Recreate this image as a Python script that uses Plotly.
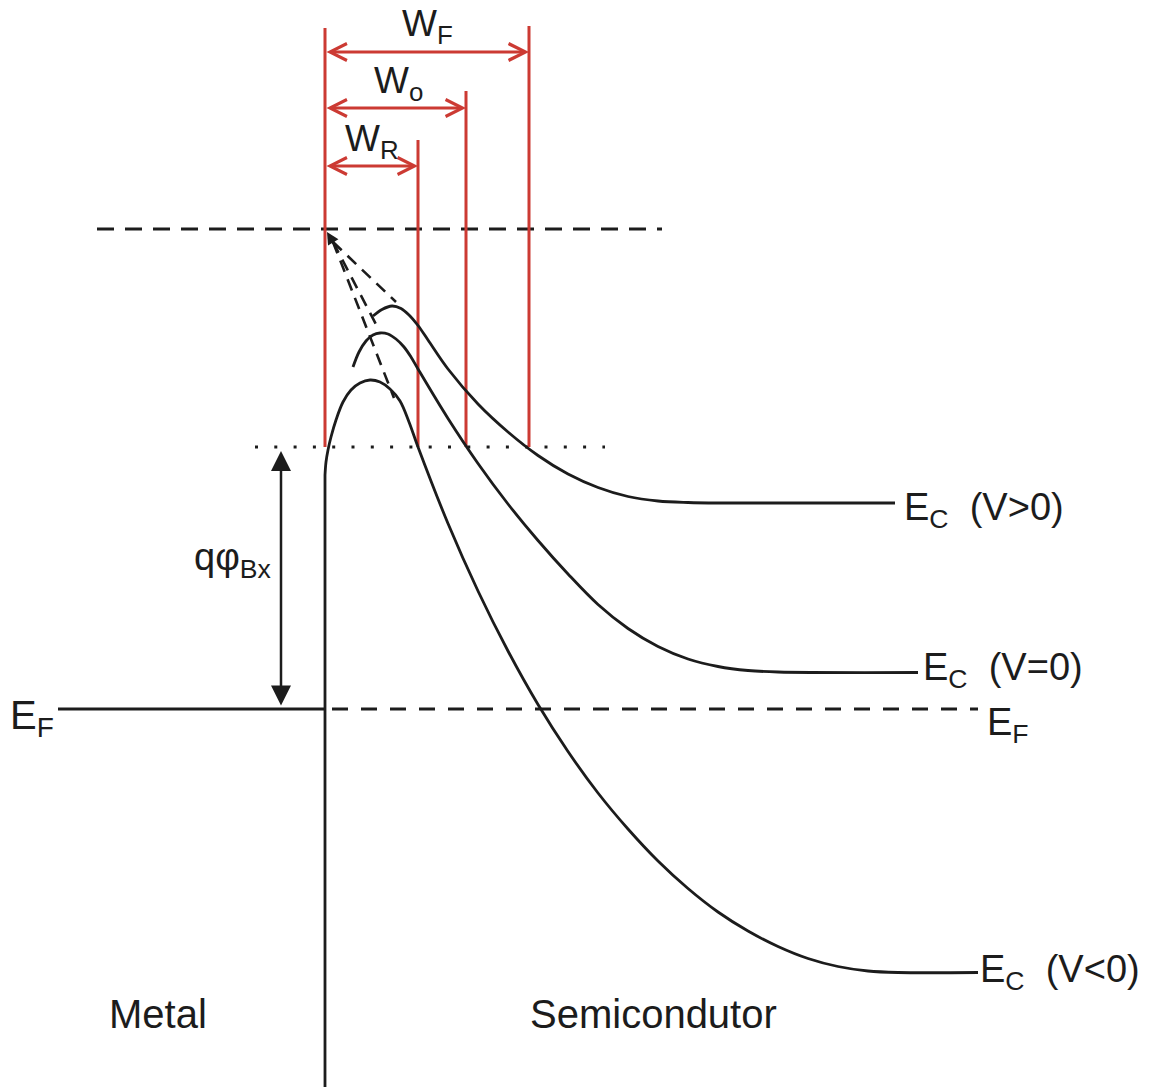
import plotly.graph_objects as go

W, H = 1158, 1087
BLACK = "#1c1c1c"
RED = "#cc3a33"
FONT = "Liberation Sans, Arial, sans-serif"

# Conduction-band profiles (diagram units, y grows downward)
ec_fwd_x = [373, 382, 392, 401, 409, 418, 428, 448, 478, 508, 538, 568, 598, 628, 658, 688, 720, 895]
ec_fwd_y = [316, 309.5, 306, 308.5, 315, 325.5, 340, 369, 404, 432, 455.5, 474, 487.5, 496.5, 501, 502.5, 503, 503]

ec_eq_x = [353, 359, 366, 373, 380, 388, 396, 404, 411, 418, 448, 478, 508, 538, 568, 598, 628, 658, 688,
           718, 748, 778, 918]
ec_eq_y = [367, 352, 341, 335, 333, 334, 339, 347, 357, 369, 418.5, 463.5, 504, 540.5, 574, 604.5, 628.5,
           646.5, 659, 666.5, 670.5, 672, 672.5]

ec_rev_x = [325, 326, 328, 331, 336, 343, 351, 360, 370, 380, 390, 400, 409, 418, 448, 478, 508, 538, 568,
            598, 628, 658, 688, 718, 748, 778, 808, 838, 868, 898, 978]
ec_rev_y = [475, 462, 450, 437, 420, 402, 390, 383, 380, 382, 389, 401, 422, 447, 523.5, 591, 651, 704.5,
            751.5, 793, 829, 861, 888.5, 912, 931, 946.5, 958.5, 966.5, 971, 972.5, 972.5]

# Interface (metal/semiconductor boundary) and reference levels
interface_x = 325
interface_top = 475
phi_b0_level = 229          # barrier without image force
phi_bx_level = 447          # effective barrier height
fermi_level = 709

# Band extrapolations without image-force lowering
ext_end_x = [396, 379, 394]
ext_end_y = [302, 330, 398]
ext_origin = (327, 232)

# Depletion widths: right edges of W_R, W_o, W_F and their arrow rows
depl_x = [418, 466, 529]
depl_top = [140, 91, 26]
depl_arrow_y = [166, 108, 52]
depl_labels = ["W<sub>R</sub>", "W<sub>o</sub>", "W<sub>F</sub>"]
depl_label_pos = [(372, 141), (398, 83), (427, 26)]

fig = go.Figure()


def line(x, y, color=BLACK, width=2.8, dash="solid", shape="linear"):
    fig.add_trace(go.Scatter(x=x, y=y, mode="lines", hoverinfo="skip",
                             line=dict(color=color, width=width, dash=dash, shape=shape,
                                       smoothing=1.0)))


# reference levels
line([97, 662], [phi_b0_level, phi_b0_level], width=3, dash="17px,11px")
line([255, 605], [phi_bx_level, phi_bx_level], width=3.2, dash="3px,16.3px")
line([58, interface_x], [fermi_level, fermi_level], width=2.8)
line([332, 978], [fermi_level, fermi_level], width=3, dash="16px,13px")

# red depletion boundaries
line([interface_x, interface_x], [28, phi_bx_level], color=RED, width=3)
for xv, top in zip(depl_x, depl_top):
    line([xv, xv], [top, phi_bx_level], color=RED, width=3)

# metal side / interface
line([interface_x, interface_x], [interface_top, H], width=2.8)

# image-force-free extrapolations
for xe, ye in zip(ext_end_x, ext_end_y):
    line([ext_origin[0] + 6, xe], [ext_origin[1] + 10, ye], width=2.6, dash="12px,8px")

# band edges
line(ec_fwd_x, ec_fwd_y, shape="spline")
line(ec_eq_x, ec_eq_y, shape="spline")
line(ec_rev_x, ec_rev_y, shape="spline")

ann = []


def arrow(x0, y0, x1, y1, color, head, size, width, both=True):
    ann.append(dict(x=x1, y=y1, ax=x0, ay=y0, xref="x", yref="y", axref="x", ayref="y",
                    showarrow=True, text="", arrowcolor=color, arrowhead=head,
                    startarrowhead=head, arrowsize=size, startarrowsize=size,
                    arrowwidth=width, arrowside="end+start" if both else "end",
                    standoff=0, startstandoff=0))


for xv, ay in zip(depl_x, depl_arrow_y):
    arrow(interface_x, ay, xv, ay, RED, 5, 1.1, 3)

# qφBx double arrow
arrow(281, fermi_level - 2, 281, phi_bx_level + 4, BLACK, 2, 1.6, 2.5)
# small arrow at the top of the extrapolated bands
arrow(ext_origin[0] + 9, ext_origin[1] + 15, ext_origin[0], ext_origin[1], BLACK, 2, 1.1, 2.2, both=False)


def label(x, y, text, size, xanchor="left"):
    ann.append(dict(x=x, y=y, xref="x", yref="y", text=text, showarrow=False,
                    xanchor=xanchor, yanchor="middle",
                    font=dict(family=FONT, size=size, color=BLACK)))


for (lx, ly), t in zip(depl_label_pos, depl_labels):
    label(lx, ly, t, 37, "center")

label(233, 560, "qφ<sub>Bx</sub>", 38, "center")
label(8, 718, "E<sub>F</sub>", 40)
label(985, 725, "E<sub>F</sub>", 38)
label(902, 510, "E<sub>C</sub>  (V>0)", 38)
label(921, 670, "E<sub>C</sub>  (V=0)", 38)
label(978, 972, "E<sub>C</sub>  (V<0)", 38)
label(158, 1014, "Metal", 40, "center")
label(653, 1014, "Semicondutor", 40, "center")

fig.update_layout(
    width=W, height=H, margin=dict(l=0, r=0, t=0, b=0),
    paper_bgcolor="white", plot_bgcolor="white", showlegend=False,
    xaxis=dict(range=[0, W], visible=False, fixedrange=True),
    yaxis=dict(range=[H, 0], visible=False, fixedrange=True),
    annotations=ann,
)

fig.write_html("out.html", config={"displayModeBar": False})
